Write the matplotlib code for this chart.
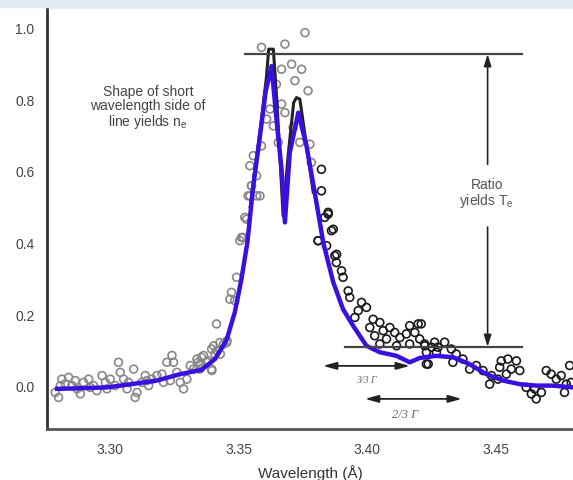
import matplotlib.pyplot as plt
from matplotlib.patches import Rectangle
import numpy as np

plt.rcParams['font.family'] = ['Liberation Sans', 'DejaVu Sans']

# fitted profile (blue)
fit_wl = [3.2794, 3.2900, 3.2988, 3.3092, 3.3182, 3.3273, 3.3356, 3.3408, 3.3453, 3.3485,
          3.3511, 3.3534, 3.3557, 3.3583, 3.3605, 3.3628, 3.3647, 3.3667, 3.3680, 3.3699,
          3.3732, 3.3764, 3.3796, 3.3829, 3.3868, 3.3906, 3.3945, 3.3997, 3.4049, 3.4114,
          3.4165, 3.4204, 3.4269, 3.4334, 3.4398, 3.4463, 3.4528, 3.4593, 3.4657, 3.4722, 3.4800]
fit_val = [-0.008, -0.006, -0.004, 0.006, 0.015, 0.033, 0.045, 0.075, 0.128, 0.205,
           0.298, 0.400, 0.558, 0.697, 0.820, 0.892, 0.744, 0.604, 0.456, 0.651,
           0.762, 0.669, 0.539, 0.400, 0.289, 0.214, 0.168, 0.112, 0.094, 0.084,
           0.066, 0.078, 0.084, 0.080, 0.061, 0.033, 0.015, 0.005, 0.001, 0.001, -0.004]

# measured line near the peaks (black)
line_wl = [3.3545, 3.3585, 3.3608, 3.3617, 3.3635, 3.3650, 3.3673, 3.3692, 3.3714, 3.3725, 3.3738, 3.3760, 3.3790]
line_val = [0.50, 0.72, 0.86, 0.939, 0.939, 0.78, 0.474, 0.64, 0.79, 0.804, 0.80, 0.69, 0.54]

# data points
pts_wl = [3.2787, 3.2800, 3.2813, 3.2826, 3.2839, 3.2852, 3.2872, 3.2885, 3.2897, 3.2917,
          3.2936, 3.2949, 3.2969, 3.2982, 3.3001, 3.3020, 3.3033, 3.3040, 3.3053, 3.3072,
          3.3092, 3.3098, 3.3105, 3.3124, 3.3137, 3.3150, 3.3163, 3.3182, 3.3202, 3.3221,
          3.3241, 3.3247, 3.3260, 3.3273, 3.3286, 3.3299, 3.3312, 3.3325, 3.3338, 3.3351,
          3.3364, 3.3377, 3.3396, 3.3403, 3.3416, 3.3429, 3.3442, 3.3455,
          3.2807, 3.2865, 3.2923, 3.2988, 3.3066, 3.3144, 3.3208, 3.3234,
          3.3550, 3.3537, 3.3570, 3.3524, 3.3511, 3.3505, 3.3492, 3.3472, 3.3466, 3.3485,
          3.3414, 3.3427, 3.3453, 3.3395, 3.3408, 3.3356, 3.3343, 3.3382, 3.3395, 3.3349,
          3.3758, 3.3589, 3.3680, 3.3667, 3.3706, 3.3745, 3.3719, 3.3770, 3.3647, 3.3667,
          3.3622, 3.3680, 3.3635, 3.3609, 3.3712, 3.3738, 3.3777, 3.3654, 3.3589, 3.3557,
          3.3544, 3.3570, 3.3550, 3.3583, 3.3544, 3.3531, 3.3518, 3.3783,
          3.3822, 3.3822, 3.3848, 3.3835, 3.3868, 3.3809, 3.3881,
          3.3848, 3.3861, 3.3809, 3.3842, 3.3874, 3.3880, 3.3900, 3.3906, 3.3926, 3.3932,
          3.3978, 3.3997, 3.3965, 3.3952, 3.4023, 3.4049, 3.4010, 3.4062, 3.4088, 3.4107,
          3.4029, 3.4075, 3.4127, 3.4165, 3.4198, 3.4152, 3.4185, 3.4204, 3.4049, 3.4114,
          3.4165, 3.4224, 3.4250, 3.4230, 3.4269, 3.4237,
          3.4210, 3.4223, 3.4262, 3.4301, 3.4230, 3.4275, 3.4327, 3.4346, 3.4333, 3.4372,
          3.4398, 3.4424, 3.4450, 3.4476, 3.4483, 3.4515, 3.4521, 3.4547, 3.4580, 3.4560,
          3.4593, 3.4541, 3.4508, 3.4618, 3.4638, 3.4657, 3.4651, 3.4677, 3.4696, 3.4715,
          3.4735, 3.4754, 3.4774, 3.4767, 3.4793, 3.4787]
pts_val = [-0.018, -0.032, 0.019, 0.006, 0.024, 0.001, -0.008, -0.022, 0.010, 0.019,
           0.001, -0.013, 0.029, 0.010, 0.019, 0.001, 0.066, 0.038, 0.019, 0.010,
           0.047, -0.032, -0.018, 0.010, 0.029, 0.001, 0.019, 0.029, 0.033, 0.066,
           0.085, 0.066, 0.038, 0.010, -0.008, 0.019, 0.057, 0.047, 0.075, 0.061,
           0.085, 0.066, 0.043, 0.112, 0.098, 0.089, 0.117, 0.126,
           0.001, 0.015, -0.004, -0.008, -0.008, 0.015, 0.010, 0.015,
           0.558, 0.530, 0.530, 0.470, 0.414, 0.405, 0.303, 0.261, 0.242, 0.238,
           0.173, 0.121, 0.121, 0.103, 0.089, 0.080, 0.066, 0.070, 0.047, 0.047,
           0.985, 0.944, 0.953, 0.883, 0.897, 0.883, 0.851, 0.823, 0.841, 0.786,
           0.772, 0.762, 0.725, 0.744, 0.721, 0.679, 0.674, 0.679, 0.669, 0.642,
           0.614, 0.586, 0.558, 0.530, 0.530, 0.465, 0.414, 0.623,
           0.604, 0.544, 0.484, 0.470, 0.437, 0.405, 0.367,
           0.479, 0.433, 0.405, 0.391, 0.363, 0.344, 0.321, 0.303, 0.265, 0.247,
           0.233, 0.219, 0.210, 0.191, 0.186, 0.177, 0.163, 0.154, 0.163, 0.149,
           0.140, 0.131, 0.135, 0.168, 0.173, 0.145, 0.149, 0.131, 0.117, 0.112,
           0.117, 0.112, 0.108, 0.094, 0.094, 0.061,
           0.173, 0.117, 0.122, 0.122, 0.061, 0.108, 0.103, 0.089, 0.066, 0.075,
           0.047, 0.057, 0.043, 0.005, 0.029, 0.052, 0.070, 0.075, 0.070, 0.047,
           0.043, 0.033, 0.019, -0.004, -0.022, -0.036, -0.008, -0.018, 0.043, 0.033,
           0.019, 0.029, 0.005, -0.018, 0.010, 0.057]

xticks = [3.30, 3.35, 3.40, 3.45]
yticks = [0.0, 0.2, 0.4, 0.6, 0.8, 1.0]

pts_wl = np.array(pts_wl)
pts_val = np.array(pts_val)
left = pts_wl < 3.38

fig = plt.figure(figsize=(5.73, 4.81), dpi=100)
fig.patches.append(Rectangle((0, 0.983), 1, 0.02, transform=fig.transFigure,
                             color='#e3e9f1', zorder=0))
ax = fig.add_axes([0.082, 0.106, 0.918, 0.877])

ax.scatter(pts_wl[left], pts_val[left], s=32, facecolors='none', edgecolors='#888888', linewidths=1.2, zorder=2)
ax.scatter(pts_wl[~left], pts_val[~left], s=32, facecolors='none', edgecolors='#1a1a1a', linewidths=1.2, zorder=2)
ax.plot(line_wl, line_val, color='#222222', lw=2.2, zorder=3)
ax.plot(fit_wl, fit_val, color='#3a10e0', lw=3.2, zorder=4)

# reference levels
ax.plot([3.3525, 3.46], [0.925, 0.925], color='#444444', lw=1.6, zorder=5)
ax.plot([3.3913, 3.46], [0.109, 0.109], color='#444444', lw=1.6, zorder=5)

aprops = dict(arrowstyle='-|>,head_length=0.7,head_width=0.22', color='#222222', lw=1.2,
              shrinkA=0, shrinkB=0)
ax.annotate('', xy=(3.4468, 0.925), xytext=(3.4468, 0.618), arrowprops=aprops)
ax.annotate('', xy=(3.4468, 0.109), xytext=(3.4468, 0.443), arrowprops=aprops)
ax.text(3.4465, 0.538, 'Ratio\nyields T$_\\mathregular{e}$', ha='center', va='center',
        fontsize=10, color='#555555', linespacing=1.0)

dprops = dict(arrowstyle='<|-|>,head_length=0.8,head_width=0.22', color='#222222', lw=1.3,
              shrinkA=0, shrinkB=0)
ax.annotate('', xy=(3.3828, 0.056), xytext=(3.4166, 0.056), arrowprops=dprops)
ax.annotate('', xy=(3.3991, -0.036), xytext=(3.4368, -0.036), arrowprops=dprops)
ax.text(3.3995, 0.019, '3/3 Γ', ha='center', va='center', fontsize=7, style='italic',
        family='Liberation Serif', color='#666666')
ax.text(3.4146, -0.078, '2/3 Γ', ha='center', va='center', fontsize=9, style='italic',
        family='Liberation Serif', color='#666666')

ax.text(3.3148, 0.777, 'Shape of short\nwavelength side of\nline yields n$_\\mathregular{e}$',
        ha='center', va='center', fontsize=10, color='#444444', linespacing=1.0)

ax.set_xlim(3.2755, 3.48)
ax.set_ylim(-0.12, 1.056)
ax.set_xticks(xticks)
ax.set_yticks(yticks)
ax.set_xticklabels(['%.2f' % t for t in xticks])
ax.set_yticklabels(['%.1f' % t for t in yticks])
ax.tick_params(length=0, labelsize=10, labelcolor='#444444', pad=9)
ax.spines['right'].set_visible(False)
ax.spines['left'].set_color('#333333')
ax.spines['left'].set_linewidth(2)
ax.spines['bottom'].set_color('#555555')
ax.spines['bottom'].set_linewidth(2)
ax.spines['top'].set_color('#999999')
ax.spines['top'].set_linewidth(1)
ax.set_xlabel('Wavelength (Å)', fontsize=11, color='#333333', labelpad=6)

fig.savefig('out.png', dpi=100)
